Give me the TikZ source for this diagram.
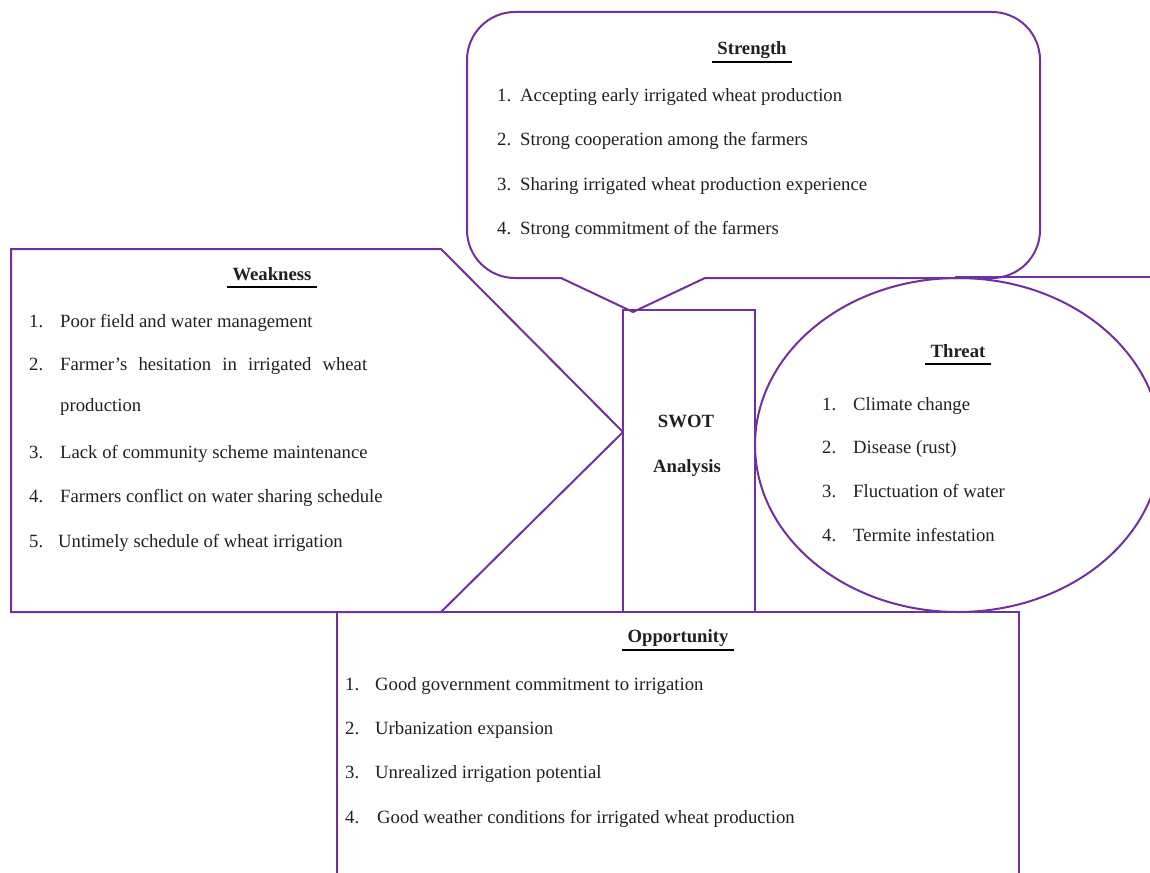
\documentclass[tikz,border=0pt]{standalone}
\usepackage{fontspec}
\setmainfont{Liberation Serif}
\definecolor{swotpurple}{HTML}{7030A0}
\definecolor{swottext}{HTML}{231F20}
\tikzset{
  shapeline/.style={draw=swotpurple, line width=2pt, line join=miter},
  itemtext/.style={anchor=base west, inner sep=0pt, text=swottext, font=\fontsize{18.7}{22}\selectfont},
  titletext/.style={anchor=base, inner sep=0pt, text=swottext, font=\fontsize{18.7}{22}\selectfont\bfseries},
  uline/.style={line width=2.5pt, black}
}
\begin{document}
\begin{tikzpicture}[x=1pt,y=-1pt]
\useasboundingbox (0,0) rectangle (1150,872);
\clip (0,0) rectangle (1150,872);

% Strength callout
\draw[shapeline] (561,278) [rounded corners=48pt]-- (467,278) -- (467,12) -- (1040,12) -- (1040,278) [sharp corners]-- (705,278) -- (633,312) -- cycle;
% Weakness arrow shape
\draw[shapeline] (11,249) -- (441,249) -- (623,432) -- (441,612) -- (11,612) -- cycle;
% SWOT centre box
\draw[shapeline] (623,310) rectangle (755,612);
% Threat ellipse
\draw[shapeline] (958,445) ellipse [x radius=203, y radius=167];
\draw[shapeline] (955,277) -- (1152,277);
% Opportunity box
\draw[shapeline] (337,880) -- (337,612) -- (1019,612) -- (1019,880);

% Centre
\node[titletext] (swot) at (686,427) {SWOT};
\node[titletext] (analysis) at (687,472) {Analysis};

% Strength
\node[titletext] (sT) at (752,55) {Strength};
\draw[uline] ([shift={(-5,7)}]sT.base west) -- ([shift={(5,7)}]sT.base east);
\node[itemtext] (sn1) at (497,102) {1.};
\node[itemtext] (s1) at (520,102) {Accepting early irrigated wheat production};
\node[itemtext] (sn2) at (497,146) {2.};
\node[itemtext] (s2) at (520,146) {Strong cooperation among the farmers};
\node[itemtext] (sn3) at (497,190) {3.};
\node[itemtext] (s3) at (520,190) {Sharing irrigated wheat production experience};
\node[itemtext] (sn4) at (497,234) {4.};
\node[itemtext] (s4) at (520,234) {Strong commitment of the farmers};

% Weakness
\node[titletext] (wT) at (272,280) {Weakness};
\draw[uline] ([shift={(-5,7)}]wT.base west) -- ([shift={(5,7)}]wT.base east);
\node[itemtext] (wn1) at (29,327) {1.};
\node[itemtext] (w1) at (60,327) {Poor field and water management};
\node[itemtext] (wn2) at (29,370) {2.};
\node[itemtext] (w2) at (60,370) {\makebox[307pt][s]{Farmer’s hesitation in irrigated wheat}};
\node[itemtext] (w2b) at (60,411) {production};
\node[itemtext] (wn3) at (29,458) {3.};
\node[itemtext] (w3) at (60,458) {Lack of community scheme maintenance};
\node[itemtext] (wn4) at (29,502) {4.};
\node[itemtext] (w4) at (60,502) {Farmers conflict on water sharing schedule};
\node[itemtext] (wn5) at (29,547) {5.};
\node[itemtext] (w5) at (58,547) {Untimely schedule of wheat irrigation};

% Threat
\node[titletext] (tT) at (958,357) {Threat};
\draw[uline] ([shift={(-5,7)}]tT.base west) -- ([shift={(5,7)}]tT.base east);
\node[itemtext] (tn1) at (822,410) {1.};
\node[itemtext] (t1) at (853,410) {Climate change};
\node[itemtext] (tn2) at (822,453) {2.};
\node[itemtext] (t2) at (853,453) {Disease (rust)};
\node[itemtext] (tn3) at (822,497) {3.};
\node[itemtext] (t3) at (853,497) {Fluctuation of water};
\node[itemtext] (tn4) at (822,541) {4.};
\node[itemtext] (t4) at (853,541) {Termite infestation};

% Opportunity
\node[titletext] (oT) at (678,642) {Opportunity};
\draw[uline] ([shift={(-5,8)}]oT.base west) -- ([shift={(5,8)}]oT.base east);
\node[itemtext] (on1) at (345,690) {1.};
\node[itemtext] (o1) at (375,690) {Good government commitment to irrigation};
\node[itemtext] (on2) at (345,734) {2.};
\node[itemtext] (o2) at (375,734) {Urbanization expansion};
\node[itemtext] (on3) at (345,778) {3.};
\node[itemtext] (o3) at (375,778) {Unrealized irrigation potential};
\node[itemtext] (on4) at (345,823) {4.};
\node[itemtext] (o4) at (377,823) {Good weather conditions for irrigated wheat production};
\end{tikzpicture}
\end{document}
